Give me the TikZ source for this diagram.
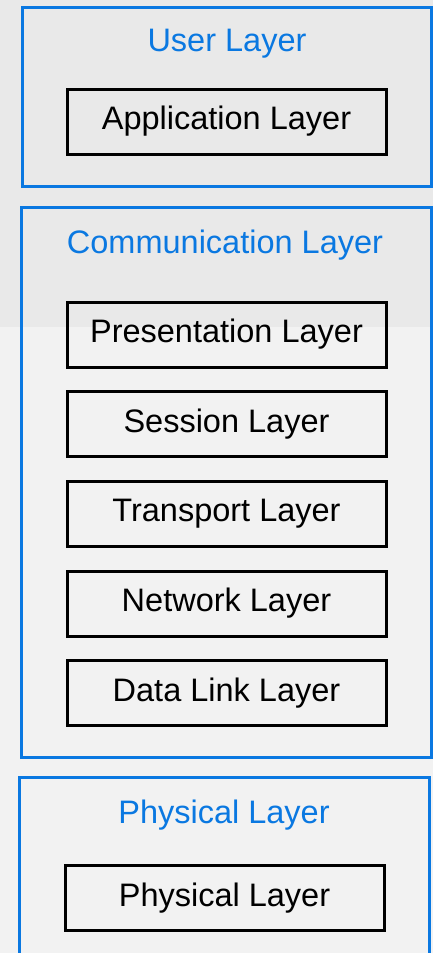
\documentclass[tikz,border=0pt]{standalone}
\usepackage{fontspec}
\setmainfont{Liberation Sans}
\definecolor{layblue}{RGB}{10,120,225}
\definecolor{bgtop}{RGB}{233,233,233}
\definecolor{bgbot}{RGB}{242,242,242}
\begin{document}
\begin{tikzpicture}[x=1pt,y=-1pt,
  outerbox/.style={draw=layblue,line width=3pt,rectangle,minimum width=410pt,inner sep=0pt},
  innerbox/.style={draw=black,line width=3pt,rectangle,minimum width=319pt,minimum height=65pt,inner sep=0pt,font=\fontsize{32.5}{38}\selectfont},
  title/.style={text=layblue,inner sep=0pt,font=\fontsize{32.5}{38}\selectfont}]
\useasboundingbox (0,0) rectangle (433,953);
\clip (0,0) rectangle (433,953);
\fill[bgtop] (0,0) rectangle (433,327);
\fill[bgbot] (0,327) rectangle (433,953);
% outer groups
\node[outerbox,minimum width=409pt,minimum height=179pt] (user) at (226.5,96.5) {};
\node[outerbox,minimum height=550pt] (comm) at (226,482) {};
\node[outerbox,minimum height=260pt] (phys) at (224,907) {};
% titles
\node[title] (usert) at (227,44) {User Layer};
\node[title] (commt) at (225,245) {Communication Layer};
\node[title] (physt) at (224,815) {Physical Layer};
% inner boxes
\node[innerbox] (app) at (226.5,121.5) {Application Layer};
\node[innerbox] (pres) at (226.5,334.5) {Presentation Layer};
\node[innerbox] (sess) at (226.5,424) {Session Layer};
\node[innerbox] (trans) at (226.5,513.5) {Transport Layer};
\node[innerbox] (net) at (226.5,603.5) {Network Layer};
\node[innerbox] (dl) at (226.5,693) {Data Link Layer};
\node[innerbox] (phy) at (224.5,898) {Physical Layer};
\end{tikzpicture}
\end{document}
